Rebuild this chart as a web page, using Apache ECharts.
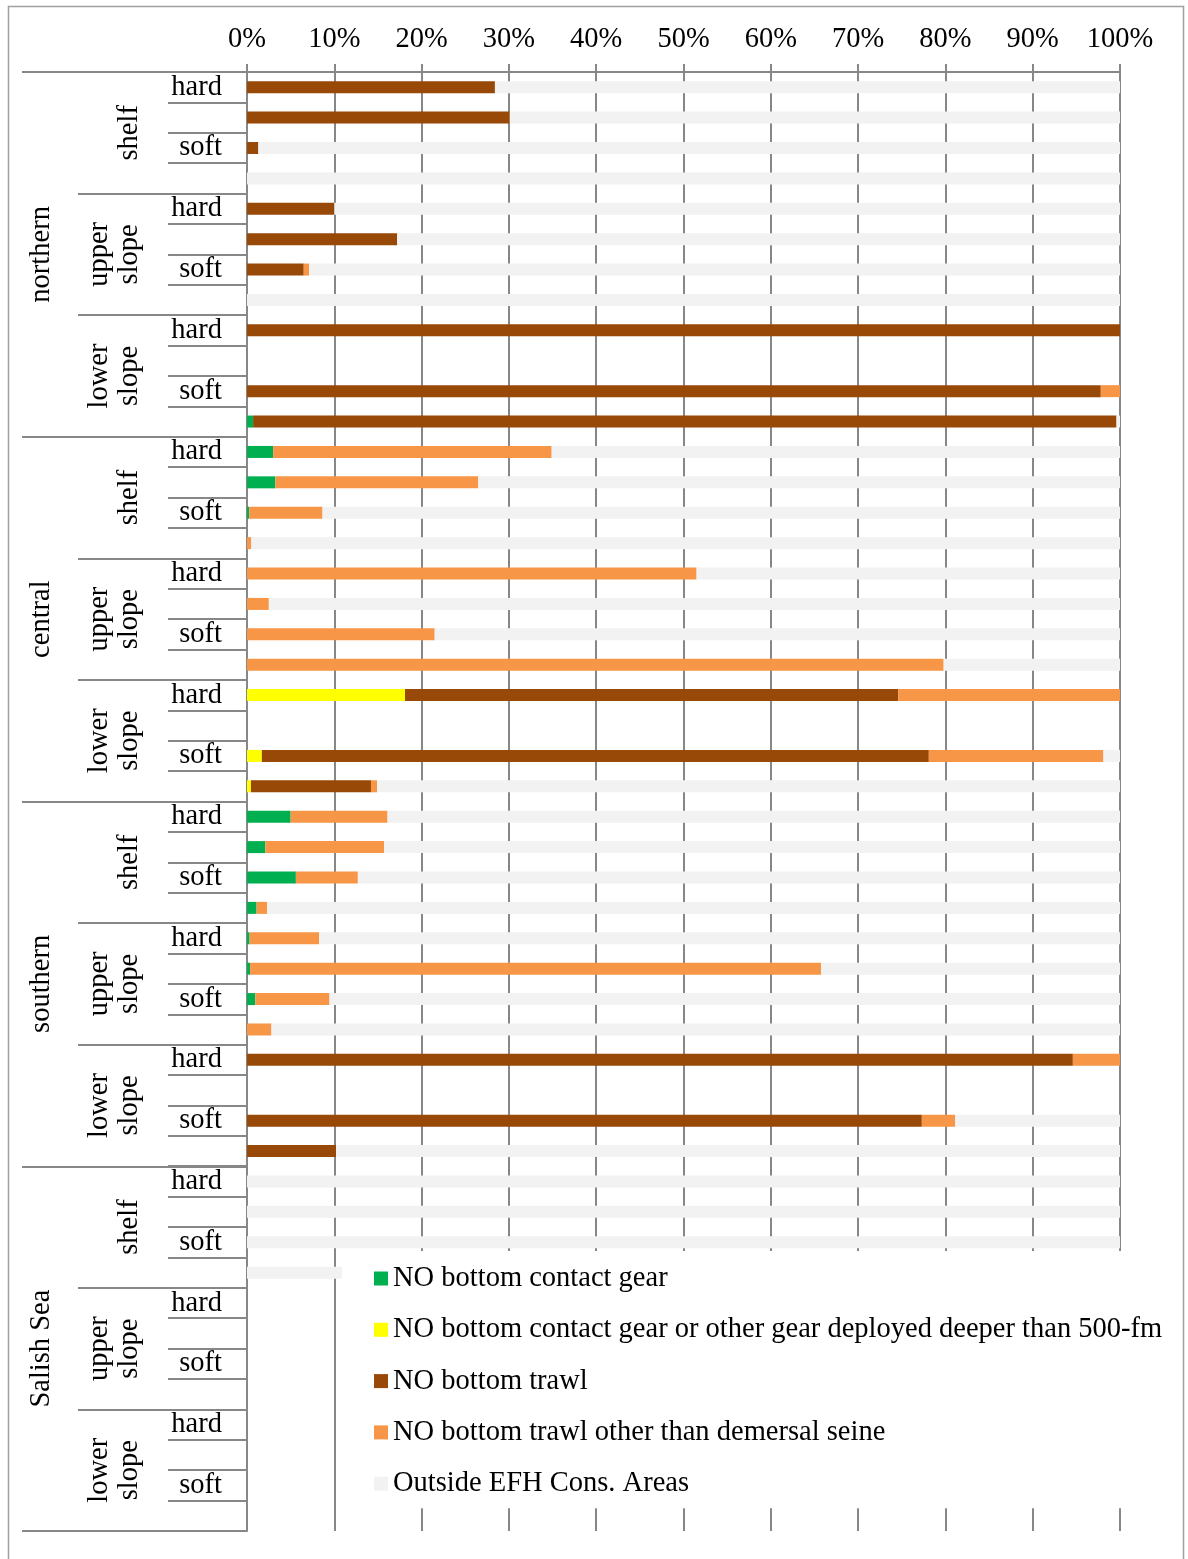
<!DOCTYPE html>
<html><head><meta charset="utf-8">
<script src="https://cdn.jsdelivr.net/npm/echarts@6/dist/echarts.min.js"></script>
<style>html,body{margin:0;padding:0;background:#fff}#chart{width:1188px;height:1559px}</style>
</head><body><div id="chart"></div>
<script>
// ---- categories ----
const regions = ['northern', 'central', 'southern', 'Salish Sea'];
const zones = ['shelf', 'upper\nslope', 'lower\nslope'];
const substrates = ['hard', '', 'soft', ''];
const xTickLabels = ['0%','10%','20%','30%','40%','50%','60%','70%','80%','90%','100%'];

// ---- series names & colours ----
const seriesNames = [
  'NO bottom contact gear',
  'NO bottom contact gear or other gear deployed deeper than 500-fm',
  'NO bottom trawl',
  'NO bottom trawl other than demersal seine',
  'Outside EFH Cons. Areas'
];
const seriesColors = ['#00b050', '#ffff00', '#984807', '#f79646', '#f2f2f2'];

// ---- values (percent), 48 rows: region x zone x (hard, -, soft, -) ----
const noBottomContact = [
  0,0,0,0,  0,0,0,0,  0,0,0,0.7,
  3.0,3.25,0.25,0,  0,0,0,0,  0,0,0,0,
  5.0,2.1,5.6,1.1,  0.3,0.35,0.95,0,  0,0,0,0,
  0,0,0,0,  0,0,0,0,  0,0,0,0
];
const noContactOrDeep = [
  0,0,0,0,  0,0,0,0,  0,0,0,0,
  0,0,0,0,  0,0,0,0,  18.1,0,1.7,0.45,
  0,0,0,0,  0,0,0,0,  0,0,0,0,
  0,0,0,0,  0,0,0,0,  0,0,0,0
];
const noBottomTrawl = [
  28.4,30.1,1.3,0,  10.0,17.2,6.5,0,  100,0,97.8,98.9,
  0,0,0,0,  0,0,0,0,  56.5,0,76.4,13.75,
  0,0,0,0,  0,0,0,0,  94.6,0,77.3,10.2,
  0,0,0,0,  0,0,0,0,  0,0,0,0
];
const noTrawlButSeine = [
  0,0,0,0,  0,0,0.6,0,  0,0,2.2,0,
  31.9,23.25,8.4,0.5,  51.5,2.5,21.5,79.8,  25.4,0,20.0,0.7,
  11.1,13.6,7.1,1.2,  7.95,65.4,8.5,2.8,  5.4,0,3.8,0,
  0,0,0,0,  0,0,0,0,  0,0,0,0
];
const outsideEFH = [
  71.6,69.9,98.7,100,  90.0,82.8,92.9,100,  0,0,0,0.4,
  65.1,73.5,91.35,99.5,  48.5,97.5,78.5,20.2,  0,0,1.9,85.1,
  83.9,84.3,87.3,97.7,  91.75,34.25,90.55,97.2,  0,0,18.9,89.8,
  100,100,100,100,  0,0,0,0,  0,0,0,0
];
const seriesData = [noBottomContact, noContactOrDeep, noBottomTrawl, noTrawlButSeine, outsideEFH];

// ---- build hierarchical category keys ----
const rowKeys = [], zoneKeys = [];
regions.forEach((r, ri) => zones.forEach((z, zi) => {
  zoneKeys.push(ri + '-' + zi);
  substrates.forEach((s, si) => rowKeys.push(ri + '-' + zi + '-' + si));
}));

const FONT = 'Liberation Serif';
const GRAY = '#878787';
const lineStyle = { color: GRAY, width: 2 };

const chart = echarts.init(document.getElementById('chart'), null, { renderer: 'canvas' });
chart.setOption({
  animation: false,
  textStyle: { fontFamily: FONT },
  grid: { left: 247, right: 68, top: 72, bottom: 28, containLabel: false, outerBoundsMode: 'none' },
  xAxis: {
    type: 'value', position: 'top', min: 0, max: 100, interval: 10,
    axisLine: { show: true, lineStyle },
    axisTick: { show: true, length: 8, lineStyle },
    axisLabel: {
      formatter: v => xTickLabels[Math.round(v / 10)],
      fontSize: 28.5, color: '#000', margin: 18, fontFamily: FONT
    },
    splitLine: { show: true, lineStyle: { color: GRAY, width: 2 } }
  },
  yAxis: [
    {
      type: 'category', inverse: true, position: 'left', data: rowKeys,
      axisLine: { show: true, lineStyle },
      axisTick: { show: true, length: 79, interval: 0, lineStyle },
      axisLabel: {
        interval: 0, fontSize: 28.5, color: '#000', margin: 25, fontFamily: FONT,
        formatter: v => substrates[+v.split('-')[2]]
      }
    },
    {
      type: 'category', inverse: true, position: 'left', data: zoneKeys,
      axisLine: { show: false },
      axisTick: { show: true, length: 169, interval: 0, lineStyle },
      axisLabel: {
        interval: 0, rotate: 90, fontSize: 28.5, lineHeight: 30, color: '#000', margin: 102, fontFamily: FONT,
        formatter: v => zones[+v.split('-')[1]]
      }
    },
    {
      type: 'category', inverse: true, position: 'left', data: regions,
      axisLine: { show: false },
      axisTick: { show: true, length: 225, interval: 0, lineStyle },
      axisLabel: { interval: 0, rotate: 90, fontSize: 28.5, color: '#000', margin: 191, fontFamily: FONT }
    }
  ],
  legend: {
    orient: 'vertical', left: 342, top: 1251, padding: [13, 10, 10, 32],
    itemWidth: 14, itemHeight: 14, itemGap: 22.3, icon: 'rect',
    backgroundColor: '#ffffff', selectedMode: false,
    textStyle: { fontSize: 28.5, lineHeight: 28, color: '#000', fontFamily: FONT },
    data: seriesNames
  },
  graphic: [{
    type: 'rect', silent: true, z: 100,
    shape: { x: 8.5, y: 6.5, width: 1175, height: 1600 },
    style: { fill: 'none', stroke: '#a0a0a0', lineWidth: 1.5 }
  }],
  series: seriesNames.map((n, i) => ({
    name: n, type: 'bar', stack: 'total', barWidth: 12, yAxisIndex: 0,
    data: seriesData[i],
    itemStyle: { color: seriesColors[i] },
    emphasis: { disabled: true }
  }))
});
</script>
</body></html>
